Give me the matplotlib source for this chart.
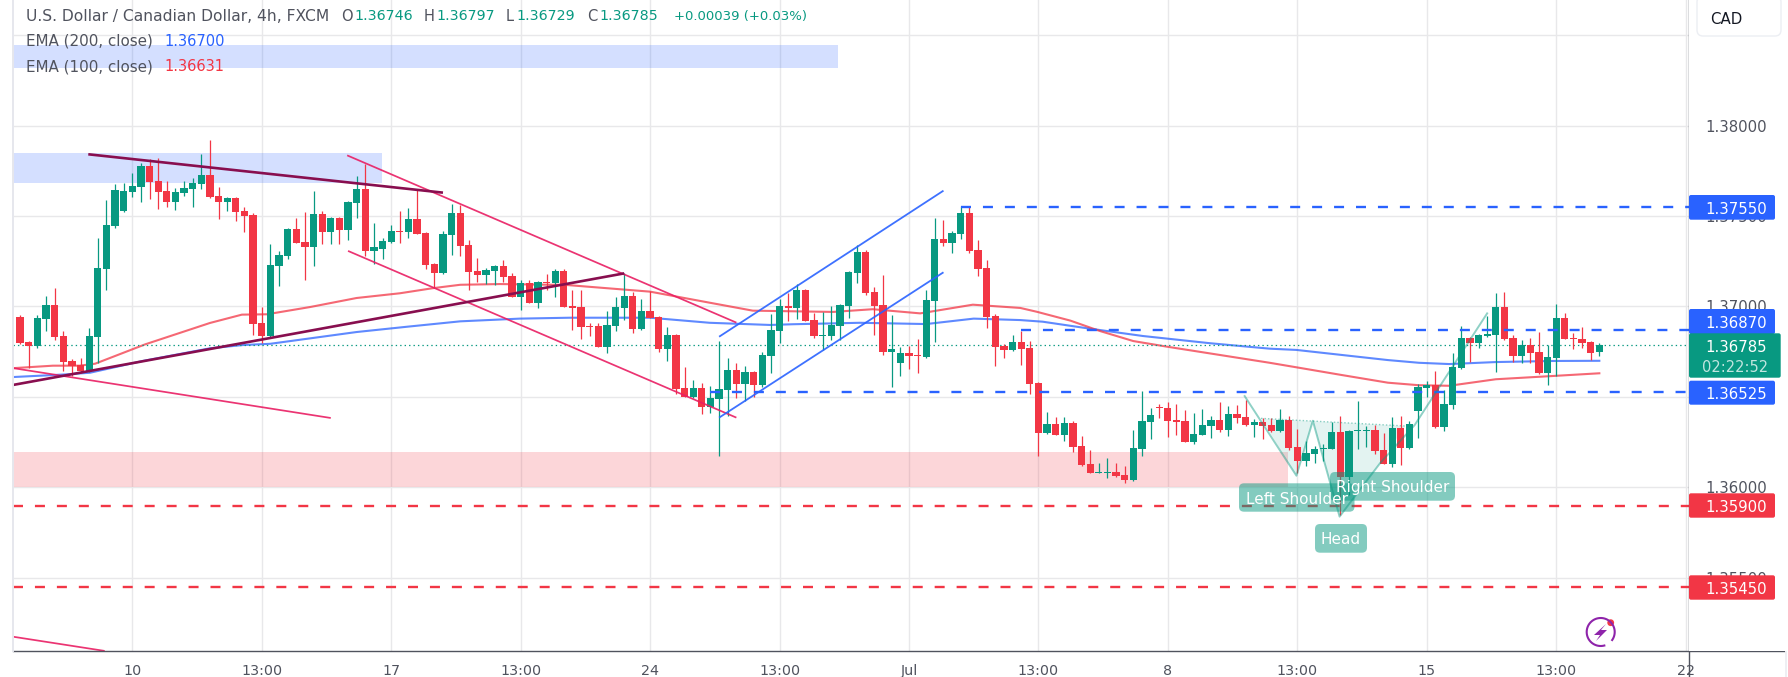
import numpy as np
import matplotlib
matplotlib.use("Agg")
import matplotlib.pyplot as plt
from matplotlib.patches import FancyBboxPatch, Rectangle, Polygon, Circle
from matplotlib.lines import Line2D

plt.rcParams['lines.scale_dashes'] = False
plt.rcParams['font.family'] = ['DejaVu Sans']

opens = [1.36942,1.36804,1.36784,1.36931,1.37009,1.36837,1.36699,1.36677,1.36644,1.36832,
1.37208,1.37445,1.37528,1.37633,1.37661,1.37777,1.37694,1.37639,1.37578,1.37628,
1.37650,1.37677,1.37727,1.37611,1.37578,1.37600,1.37528,1.37506,1.36909,1.36837,
1.37224,1.37279,1.37428,1.37357,1.37329,1.37511,1.37412,1.37489,1.37423,1.37572,
1.37650,1.37307,1.37318,1.37357,1.37417,1.37412,1.37484,1.37406,1.37235,1.37185,
1.37395,1.37517,1.37340,1.37196,1.37174,1.37196,1.37224,1.37169,1.37052,1.37130,
1.37019,1.37135,1.37130,1.37196,1.37003,1.36997,1.36892,1.36892,1.36776,1.36892,
1.36992,1.37058,1.36875,1.36975,1.36942,1.36765,1.36842,1.36549,1.36500,1.36549,
1.36444,1.36489,1.36538,1.36649,1.36572,1.36638,1.36566,1.36727,1.36865,1.37003,
1.36992,1.37091,1.36926,1.36837,1.36837,1.36892,1.37003,1.37185,1.37301,1.37080,
1.37009,1.36749,1.36688,1.36743,1.36732,1.36721,1.37031,1.37373,1.37351,1.37401,
1.37517,1.37312,1.37213,1.36948,1.36782,1.36760,1.36804,1.36771,1.36577,1.36301,
1.36351,1.36290,1.36356,1.36229,1.36130,1.36080,1.36080,1.36086,1.36069,1.36041,
1.36213,1.36362,1.36445,1.36439,1.36373,1.36367,1.36251,1.36290,1.36340,1.36373,
1.36318,1.36406,1.36390,1.36345,1.36362,1.36345,1.36312,1.36373,1.36224,1.36146,
1.36185,1.36213,1.36213,1.36307,1.36058,1.36312,1.36312,1.36318,1.36207,1.36130,
1.36329,1.36218,1.36422,1.36549,1.36566,1.36334,1.36455,1.36660,1.36826,1.36798,
1.36836,1.36842,1.36997,1.36826,1.36726,1.36787,1.36748,1.36632,1.36715,1.36936,
1.36826,1.36820,1.36803,1.36746]
highs = [1.36953,1.36810,1.36953,1.37058,1.37103,1.36865,1.36710,1.36716,1.36882,1.37379,
1.37589,1.37677,1.37683,1.37738,1.37793,1.37815,1.37821,1.37694,1.37655,1.37694,
1.37710,1.37843,1.37920,1.37661,1.37605,1.37605,1.37550,1.37517,1.36998,1.37346,
1.37307,1.37432,1.37489,1.37522,1.37638,1.37528,1.37495,1.37495,1.37583,1.37721,
1.37788,1.37462,1.37379,1.37451,1.37528,1.37545,1.37644,1.37410,1.37240,1.37417,
1.37567,1.37561,1.37368,1.37268,1.37213,1.37230,1.37257,1.37185,1.37146,1.37146,
1.37141,1.37179,1.37207,1.37207,1.37091,1.37091,1.36909,1.36909,1.36975,1.37052,
1.37183,1.37080,1.37041,1.37085,1.36945,1.36887,1.36846,1.36665,1.36594,1.36577,
1.36560,1.36809,1.36715,1.36688,1.36671,1.36643,1.36748,1.36959,1.37042,1.37075,
1.37125,1.37097,1.36964,1.36970,1.37003,1.37014,1.37196,1.37340,1.37312,1.37108,
1.37174,1.36953,1.36776,1.36782,1.36821,1.37091,1.37489,1.37478,1.37417,1.37556,
1.37550,1.37368,1.37257,1.36959,1.36793,1.36843,1.36865,1.36809,1.36581,1.36417,
1.36390,1.36390,1.36367,1.36285,1.36207,1.36135,1.36163,1.36135,1.36119,1.36318,
1.36533,1.36439,1.36461,1.36472,1.36461,1.36428,1.36412,1.36434,1.36395,1.36472,
1.36450,1.36456,1.36483,1.36378,1.36384,1.36384,1.36434,1.36395,1.36323,1.36257,
1.36229,1.36240,1.36362,1.36395,1.36318,1.36478,1.36340,1.36345,1.36301,1.36390,
1.36395,1.36367,1.36571,1.36588,1.36643,1.36538,1.36743,1.36892,1.36830,1.36848,
1.36947,1.37074,1.37080,1.36842,1.36815,1.36826,1.36859,1.36787,1.37013,1.36964,
1.36853,1.36886,1.36809,1.36797]
lows = [1.36795,1.36659,1.36769,1.36865,1.36815,1.36644,1.36616,1.36633,1.36640,1.36688,
1.37092,1.37434,1.37523,1.37605,1.37578,1.37594,1.37539,1.37550,1.37534,1.37611,
1.37550,1.37650,1.37600,1.37484,1.37528,1.37473,1.37412,1.36843,1.36799,1.36832,
1.37114,1.37263,1.37351,1.37147,1.37224,1.37346,1.37346,1.37346,1.37368,1.37489,
1.37279,1.37235,1.37263,1.37352,1.37351,1.37379,1.37398,1.37207,1.37102,1.37180,
1.37285,1.37279,1.37091,1.37136,1.37125,1.37119,1.37136,1.37053,1.36980,1.37019,
1.36992,1.37091,1.37052,1.36997,1.36870,1.36820,1.36837,1.36776,1.36743,1.36864,
1.36925,1.36853,1.36870,1.36936,1.36748,1.36699,1.36516,1.36500,1.36496,1.36406,
1.36411,1.36174,1.36395,1.36494,1.36478,1.36500,1.36555,1.36633,1.36799,1.36920,
1.36931,1.36920,1.36826,1.36760,1.36815,1.36815,1.36937,1.37130,1.37064,1.36843,
1.36732,1.36555,1.36616,1.36655,1.36633,1.36718,1.36804,1.37335,1.37296,1.37373,
1.37296,1.37169,1.36881,1.36671,1.36716,1.36754,1.36677,1.36517,1.36174,1.36298,
1.36288,1.36257,1.36196,1.36119,1.36080,1.36080,1.36052,1.36058,1.36025,1.36036,
1.36174,1.36268,1.36384,1.36279,1.36290,1.36251,1.36240,1.36288,1.36273,1.36307,
1.36285,1.36356,1.36340,1.36279,1.36268,1.36307,1.36307,1.36207,1.36080,1.36119,
1.36135,1.36146,1.36210,1.35848,1.35959,1.36213,1.36224,1.36185,1.36130,1.36113,
1.36124,1.36215,1.36273,1.36500,1.36330,1.36312,1.36433,1.36655,1.36693,1.36770,
1.36834,1.36638,1.36815,1.36693,1.36687,1.36687,1.36627,1.36566,1.36615,1.36818,
1.36765,1.36770,1.36704,1.36729]
closes = [1.36799,1.36784,1.36937,1.37009,1.36832,1.36694,1.36671,1.36644,1.36837,1.37213,
1.37451,1.37644,1.37639,1.37666,1.37777,1.37688,1.37633,1.37578,1.37633,1.37655,
1.37683,1.37727,1.37605,1.37578,1.37600,1.37523,1.37500,1.36904,1.36837,1.37230,
1.37285,1.37428,1.37351,1.37329,1.37511,1.37412,1.37489,1.37423,1.37578,1.37650,
1.37307,1.37329,1.37362,1.37417,1.37413,1.37484,1.37401,1.37230,1.37185,1.37401,
1.37517,1.37335,1.37191,1.37174,1.37202,1.37224,1.37163,1.37053,1.37130,1.37019,
1.37135,1.37130,1.37196,1.36997,1.36992,1.36887,1.36887,1.36776,1.36898,1.36997,
1.37058,1.36875,1.36975,1.36936,1.36765,1.36842,1.36544,1.36500,1.36549,1.36444,
1.36494,1.36544,1.36649,1.36572,1.36638,1.36566,1.36732,1.36870,1.37003,1.36992,
1.37091,1.36920,1.36837,1.36843,1.36898,1.37009,1.37191,1.37301,1.37075,1.37003,
1.36749,1.36765,1.36743,1.36727,1.36727,1.37036,1.37373,1.37351,1.37406,1.37517,
1.37307,1.37207,1.36942,1.36776,1.36760,1.36804,1.36765,1.36572,1.36301,1.36351,
1.36290,1.36356,1.36224,1.36124,1.36080,1.36086,1.36086,1.36063,1.36041,1.36218,
1.36367,1.36401,1.36439,1.36367,1.36362,1.36251,1.36296,1.36345,1.36373,1.36318,
1.36406,1.36384,1.36345,1.36362,1.36340,1.36312,1.36373,1.36218,1.36146,1.36191,
1.36213,1.36218,1.36307,1.36058,1.36312,1.36318,1.36318,1.36202,1.36130,1.36329,
1.36218,1.36351,1.36555,1.36566,1.36334,1.36461,1.36665,1.36826,1.36798,1.36842,
1.36848,1.36997,1.36820,1.36726,1.36787,1.36743,1.36632,1.36721,1.36936,1.36820,
1.36820,1.36798,1.36743,1.36785]

ema100_bar = [-0.9,3.8,6.9,8.7,14.5,22,25.7,28.6,33.6,39,44,47.8,51,55.6,63.3,73,79.9,84.9,94.2,98.8,104.3,110.4,115.9,117.8,121.7,125.1,129,132.9,144.8,147.9,153.2,158.5,162.1,165.6,171,177.6,183]
ema100_val = [1.36659,1.36673,1.36673,1.36684,1.36791,1.36909,1.36955,1.36957,1.36997,1.37047,1.37073,1.37101,1.37120,1.37124,1.37119,1.37082,1.37021,1.36977,1.36970,1.36985,1.36962,1.37010,1.36992,1.36971,1.36922,1.36865,1.36809,1.36778,1.36689,1.36664,1.36621,1.36579,1.36565,1.36562,1.36598,1.36616,1.36631]
ema200_bar = [-0.9,5.4,8.1,14.2,22,25.8,29,39,44.8,51,57.9,63.7,73,79.9,86.9,89.6,97.3,105,110.5,115.9,118.5,123.6,130.1,137.9,144.8,147.9,153.2,158.5,162.1,165.6,171,177.6,183]
ema200_val = [1.36610,1.36625,1.36634,1.36699,1.36769,1.36787,1.36794,1.36859,1.36888,1.36918,1.36933,1.36938,1.36938,1.36910,1.36898,1.36902,1.36910,1.36903,1.36933,1.36925,1.36916,1.36880,1.36837,1.36797,1.36767,1.36760,1.36732,1.36704,1.36689,1.36682,1.36693,1.36699,1.36700]

x_tick_bars = [13,28,43,58,73,88,103,118,133,148,163,178,193]
x_tick_labels = ['10','13:00','17','13:00','24','13:00','Jul','13:00','8','13:00','15','13:00','22']
price_grid = [1.355,1.36,1.365,1.37,1.375,1.38,1.385]
price_labels = [1.355,1.36,1.37,1.375,1.38]

# levels and drawings (bar, price)
blue_levels = [(109,1.3755),(116,1.3687),(80,1.36525)]
red_levels = [1.359,1.3545]
blue_zones = [(-0.88,94.8,1.38318,1.38445),(-0.88,41.9,1.37684,1.37848)]
red_zone = (-0.88,146.9,1.36001,1.36196)
purple_lines = [((7.9,49),(1.37841,1.37629)),((-0.88,70),(1.36566,1.37183))]
pink_lines = [((37.9,83),(1.37835,1.36911)),((38,83),(1.37307,1.36386)),((-0.88,36),(1.36660,1.36384)),((-0.88,9.8),(1.35176,1.35097))]
blue_lines = [((81,107),(1.36833,1.37640)),((81,107),(1.36386,1.37189))]
hs_bar = [141.9,147.9,149.8,152.9,157.6,161.6,170]
hs_val = [1.36505,1.36065,1.36369,1.35839,1.36135,1.36345,1.36962]
neck_bar = [143.8,147.9,149.8,152.9,157.6,160.5]
neck_val = [1.36382,1.36065,1.36369,1.35839,1.36135,1.36340]

GREEN='#089981'; RED='#f23645'; BLUE='#2962ff'; GREY='#50535e'; PINK='#e91e63'; PURPLE='#880e4f'; GRID='#e8e8ea'
W,H=1788,677
fig=plt.figure(figsize=(W/100,H/100),dpi=100,facecolor='white')
L,R,B=12.5,1689,651
ax=fig.add_axes([L/W,(H-B)/H,(R-L)/W,B/H],zorder=1)
ylo,yhi=1.350966,1.386934
ax.set_xlim(-0.882,193.39); ax.set_ylim(ylo,yhi)
for s in ax.spines.values(): s.set_visible(False)
ax.set_axisbelow(True)
ax.set_yticks(price_grid); ax.set_xticks(x_tick_bars)
ax.set_xticklabels(x_tick_labels)
ax.tick_params(axis='x',length=0,pad=9.2,labelsize=10.3,labelcolor=GREY)
ax.tick_params(axis='y',length=0,labelleft=False)
ax.grid(True,color=GRID,lw=1.0)

for x0,x1,y0,y1 in blue_zones:
    ax.add_patch(Rectangle((x0,y0),x1-x0,y1-y0,fc=BLUE,alpha=.2,ec='none',zorder=1.6))
x0,x1,y0,y1=red_zone
ax.add_patch(Rectangle((x0,y0),x1-x0,y1-y0,fc=RED,alpha=.2,ec='none',zorder=1.6))

ax.plot(ema200_bar,ema200_val,color=BLUE,lw=1.5,alpha=.75,zorder=2)
ax.plot(ema100_bar,ema100_val,color=RED,lw=1.5,alpha=.75,zorder=2)
ax.axhline(closes[-1],color=GREEN,lw=.9,ls=(0,(1,2.2)),zorder=2)

o=np.array(opens);h=np.array(highs);l=np.array(lows);c=np.array(closes)
idx=np.arange(len(o))
cols=np.where(c>=o,GREEN,RED)
wick=ax.vlines(idx,l,h,colors=cols,lw=.9,zorder=3)
wick.set_snap(True)
bot=np.minimum(o,c);hei=np.maximum(np.abs(c-o),0.00006)
ax.bar(idx,hei,bottom=bot,width=.84,color=cols,lw=0,zorder=3.1)

for xs,ys in pink_lines:
    ax.plot(xs,ys,color=PINK,lw=1.25,alpha=.9,zorder=4,solid_capstyle='butt')
for xs,ys in purple_lines:
    ax.plot(xs,ys,color=PURPLE,lw=1.9,zorder=4,solid_capstyle='butt')
for xs,ys in blue_lines:
    ax.plot(xs,ys,color=BLUE,lw=1.3,alpha=.9,zorder=4,solid_capstyle='butt')
dash=(0,(7.2,8.6))
for bar,val in blue_levels:
    ax.plot([bar,193.39],[val,val],color=BLUE,lw=1.7,ls=dash,zorder=4)
for val in red_levels:
    ax.plot([-0.88,193.39],[val,val],color=RED,lw=1.7,ls=dash,zorder=4)
ax.add_patch(Polygon(np.column_stack([neck_bar,neck_val]),closed=True,fc=GREEN,alpha=.11,ec='none',zorder=2.5))
ax.plot([neck_bar[0],neck_bar[-1]],[neck_val[0],neck_val[-1]],color=GREEN,alpha=.45,lw=1,ls=(0,(1,1.5)),zorder=4)
ax.plot(hs_bar,hs_val,color=GREEN,alpha=.45,lw=1.4,zorder=4)

# price scale
sc=fig.add_axes([R/W,(H-B)/H,(W-R)/W,B/H],zorder=2,facecolor='white')
sc.set_xlim(0,W-R); sc.set_ylim(ylo,yhi)
for s in sc.spines.values(): s.set_visible(False)
sc.set_xticks([])
sc.set_yticks(price_labels); sc.set_yticklabels(['%.5f'%v for v in price_labels])
sc.tick_params(axis='y',length=0,pad=-56,labelsize=10.7,labelcolor=GREY)

# overlay in pixels
ov=fig.add_axes([0,0,1,1],zorder=3); ov.set_xlim(0,W); ov.set_ylim(H,0); ov.axis('off')
ov.patch.set_alpha(0)
def txt(x,y,s,c=GREY,ha='left',size=10.5,**k):
    ov.text(x,y,s,color=c,ha=ha,va='center_baseline',fontsize=size,**k)
txt(26,15,'U.S. Dollar / Canadian Dollar, 4h, FXCM',size=11.2)
vals=[(341,'O',354,opens[-1]),(424,'H',436,highs[-1]),(506,'L',516,lows[-1]),(587,'C',599,closes[-1])]
for xa,a,xb,v in vals:
    txt(xa,15,a); txt(xb,15,'%.5f'%v,GREEN,size=10.3)
txt(674,15,'+0.00039 (+0.03%)',GREEN,size=9.5)
txt(26,40,'EMA (200, close)',size=10.9); txt(164.5,40,'%.5f'%ema200_val[-1],BLUE)
txt(26,65,'EMA (100, close)',size=10.9); txt(164.5,65,'%.5f'%ema100_val[-1],RED)

def tag(y0,y1,col,xe=1775):
    ov.add_patch(FancyBboxPatch((R,y0),xe-R,y1-y0,boxstyle='round,pad=0,rounding_size=2',fc=col,ec='none',mutation_aspect=1))
TS=10.7
tag(309,334,BLUE); txt(1767,322,'%.5f'%blue_levels[1][1],'white',ha='right',size=TS)
tag(195,219.7,BLUE); txt(1767,207.5,'%.5f'%blue_levels[0][1],'white',ha='right',size=TS)
tag(380.7,404.7,BLUE); txt(1767,393,'%.5f'%blue_levels[2][1],'white',ha='right',size=TS)
tag(333.3,377.7,GREEN,1780.7); txt(1767,346,'%.5f'%closes[-1],'white',ha='right',size=TS)
ov.text(1768,366,'02:22:52',color='white',alpha=.75,ha='right',va='center_baseline',fontsize=10.5)
tag(493.3,517.7,RED); txt(1767,505.5,'%.5f'%red_levels[0],'white',ha='right',size=TS)
tag(575.3,599.7,RED); txt(1767,587.5,'%.5f'%red_levels[1],'white',ha='right',size=TS)

ov.add_patch(FancyBboxPatch((1697,-4),84,40,boxstyle='round,pad=0,rounding_size=6',fc='white',ec='#eceef3',lw=1))
txt(1710,18,'CAD','#131722',size=10.8)

for (x0,y0,x1,y1,s) in [(1239,483.3,1354.5,511.7,'Left Shoulder'),(1330,472,1455,500.7,'Right Shoulder'),(1315,524,1367,552.7,'Head')]:
    ov.add_patch(FancyBboxPatch((x0,y0),x1-x0,y1-y0,boxstyle='round,pad=0,rounding_size=5',fc=GREEN,alpha=.5,ec='none'))
    ov.text((x0+x1)/2,(y0+y1)/2,s,color='white',ha='center',va='center_baseline',fontsize=11)

# frame
fig.add_artist(Line2D([L/W,1785/W],[(H-B)/H]*2,color=GREY,lw=1))
fig.add_artist(Line2D([R/W,R/W],[0,1],color=GREY,lw=1))
fig.add_artist(Line2D([L/W,L/W],[(H-B)/H,1],color='#e6e7ed',lw=1.4))
fig.add_artist(Line2D([1785.5/W,1785.5/W],[0,1],color='#eeeff3',lw=1.4))

# logo
t=np.radians(np.linspace(-35,285,80))
ov.plot(1600.7+14*np.cos(t),632-14*np.sin(t),color='#8e24aa',lw=1.5)
ov.add_patch(Polygon([(1606,624),(1594,635),(1600,635),(1596,641),(1607,630),(1601,630)],fc='#8e24aa',ec='none'))
ov.add_patch(Circle((1610.7,622.7),3.4,fc=RED,ec='none'))
fig.savefig('out.png',dpi=100)
